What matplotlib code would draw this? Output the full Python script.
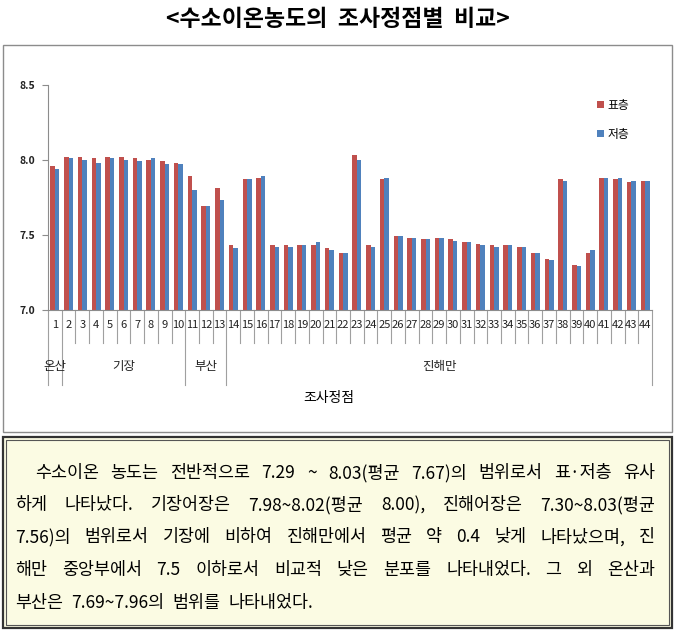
import numpy as np
import matplotlib
matplotlib.use("Agg")
import matplotlib.pyplot as plt
from matplotlib.patches import Rectangle
import matplotlib.transforms as mtransforms

plt.rcParams['font.family'] = ['Noto Sans CJK KR', 'DejaVu Sans']

# data
stations = list(range(1, 45))
surface = [7.96, 8.02, 8.02, 8.01, 8.02, 8.02, 8.01, 8.00, 7.99, 7.98,
           7.89, 7.69, 7.81, 7.43, 7.87, 7.88, 7.43, 7.43, 7.43, 7.43,
           7.41, 7.38, 8.03, 7.43, 7.87, 7.49, 7.48, 7.47, 7.48, 7.47,
           7.45, 7.44, 7.43, 7.43, 7.42, 7.38, 7.34, 7.87, 7.30, 7.38,
           7.88, 7.87, 7.85, 7.86]
bottom = [7.94, 8.01, 8.00, 7.98, 8.01, 8.00, 7.99, 8.01, 7.97, 7.97,
          7.80, 7.69, 7.73, 7.41, 7.87, 7.89, 7.42, 7.42, 7.43, 7.45,
          7.40, 7.38, 8.00, 7.42, 7.88, 7.49, 7.48, 7.47, 7.48, 7.46,
          7.45, 7.43, 7.42, 7.43, 7.42, 7.38, 7.33, 7.86, 7.29, 7.40,
          7.88, 7.88, 7.86, 7.86]
groups = ['온산', '기장', '부산', '진해만']
group_sizes = [1, 9, 3, 31]
series_names = ['표층', '저층']
yticks = [7.0, 7.5, 8.0, 8.5]

title = '<수소이온농도의  조사정점별  비교>'
body = [
    '수소이온 농도는 전반적으로 7.29 ~ 8.03(평균 7.67)의 범위로서 표·저층 유사',
    '하게 나타났다. 기장어장은 7.98~8.02(평균 8.00), 진해어장은 7.30~8.03(평균',
    '7.56)의 범위로서 기장에 비하여 진해만에서 평균 약 0.4 낮게 나타났으며, 진',
    '해만 중앙부에서 7.5 이하로서 비교적 낮은 분포를 나타내었다. 그 외 온산과',
    '부산은 7.69~7.96의 범위를 나타내었다.',
]

W, H = 676, 638
fig = plt.figure(figsize=(W / 100, H / 100), dpi=100)

def px(x, y):
    return x / W, 1 - y / H

# chart frame and text box
fig.patches.append(Rectangle(px(3, 432), 669 / W, 387 / H, transform=fig.transFigure,
                             fill=False, edgecolor='#8c8c8c', lw=1.0))
fig.patches.append(Rectangle(px(3, 628), 669 / W, 191 / H, transform=fig.transFigure,
                             facecolor='#fbfbe3', edgecolor='#333333', lw=1.6))
fig.patches.append(Rectangle(px(6, 625), 663 / W, 185 / H, transform=fig.transFigure,
                             fill=False, edgecolor='#555555', lw=0.8))

fig.text(0.5, 1 - 19 / H, title, ha='center', va='center', fontsize=16.5, fontweight='heavy')

red, blue = '#c0504d', '#4f81bd'
ax = fig.add_axes([48 / W, 1 - 310 / H, 604 / W, 225 / H])
x = np.array(stations)
w = 0.33
b1 = ax.bar(x - w / 2, surface, w, color=red, label=series_names[0])
b2 = ax.bar(x + w / 2, bottom, w, color=blue, label=series_names[1])
ax.set_xlim(0.5, 44.5)
ax.set_ylim(7.0, 8.5)
ax.set_yticks(yticks)
ax.set_yticklabels([f'{v:.1f}' for v in yticks], fontsize=7.5, color='#222222', fontweight='bold')
ax.set_xticks([])
for s in ['top', 'right']:
    ax.spines[s].set_visible(False)
for s in ['left', 'bottom']:
    ax.spines[s].set_color('#8c8c8c')
ax.tick_params(axis='y', length=4, color='#8c8c8c', pad=5)

tr = mtransforms.blended_transform_factory(ax.transData, ax.transAxes)
# category labels and separators
for i in stations:
    ax.text(i, -0.067, str(i), transform=tr, ha='center', va='center', fontsize=8, color='#222222')
edges = np.cumsum([0] + group_sizes) + 0.5
for k in range(45):
    e = k + 0.5
    depth = -0.333 if e in edges else -0.147
    ax.plot([e, e], [0, depth], transform=tr, color='#a0a0a0', lw=0.8, clip_on=False)
for g, a, b in zip(groups, edges[:-1], edges[1:]):
    ax.text((a + b) / 2, -0.253, g, transform=tr, ha='center', va='center', fontsize=9, color='#222222')
ax.text(0.465, -0.39, '조사정점', transform=ax.transAxes, ha='center', va='center', fontsize=10)

ax.legend(handles=[b1, b2], loc='upper left', bbox_to_anchor=px(586, 88),
          bbox_transform=fig.transFigure, frameon=False, fontsize=8.5,
          handlelength=0.6, handleheight=0.6, handletextpad=0.3, labelspacing=1.35)

# justified body text
fig.canvas.draw()
r = fig.canvas.get_renderer()
line_y = [473, 505, 537, 570, 603]
for n, (line, yy) in enumerate(zip(body, line_y)):
    x0 = 35 if n == 0 else 15
    x1 = 655
    words = line.split(' ')
    objs = [fig.text(0, 0, wd, fontsize=12.5, va='center', ha='left') for wd in words]
    widths = [o.get_window_extent(r).width for o in objs]
    if n < len(body) - 1:
        gap = (x1 - x0 - sum(widths)) / (len(words) - 1)
    else:
        gap = 8
    cx = x0
    for o, wd in zip(objs, widths):
        o.set_position(px(cx, yy))
        cx += wd + gap

fig.savefig('out.png', dpi=100)
